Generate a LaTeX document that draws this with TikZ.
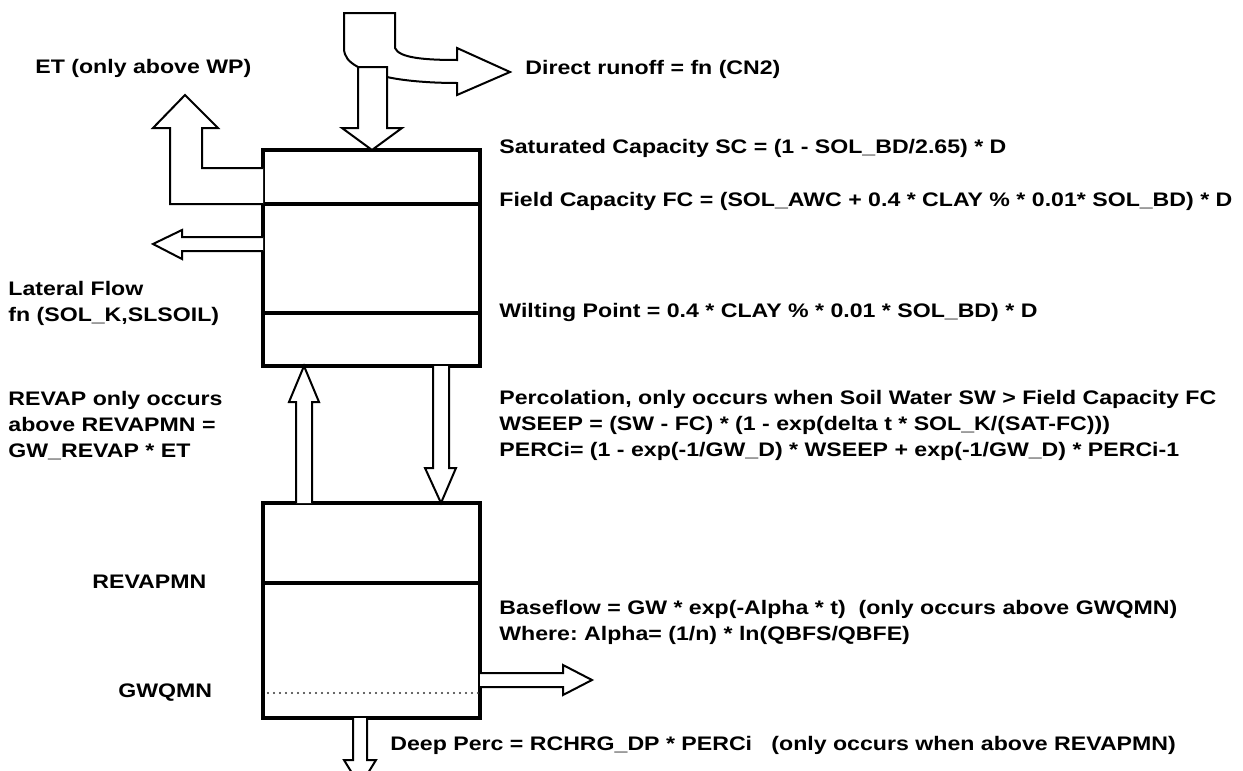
\documentclass[tikz,border=0pt]{standalone}
\usepackage{fontspec}
\setmainfont{Liberation Sans}[FakeStretch=1.18]

\begin{document}
\frenchspacing
\begin{tikzpicture}[
    x=0.5pt, y=-0.5pt,
    lbl/.style={font=\fontsize{9.8}{13}\selectfont\bfseries, inner sep=0pt, anchor=base west, align=left},
    layer/.style={draw, line width=1.75pt, minimum width=108.5pt, inner sep=0pt},
    flow/.style={draw, line width=1pt, fill=white, line join=miter},
]

\useasboundingbox (0,0) rectangle (1243,771);

% Soil profile (upper) and shallow aquifer (lower)
\node[layer, minimum height=108pt] (soil) at (371.5,258) {};
\node[layer, minimum height=107.5pt] (aquifer) at (371.5,610.5) {};
\draw[line width=1.75pt] (263,204) -- (480,204);
\draw[line width=1.75pt] (263,313) -- (480,313);
\draw[line width=1.75pt] (263,583) -- (480,583);
\draw[line width=1.1pt, line cap=round, black!80, dash pattern=on 0pt off 3pt] (268,693) -- (478,693);

% Direct runoff, bending off to the right
\draw[flow, fill=none] (358,67) .. controls (349,62) and (344,57) .. (344,48) -- (344,13)
    -- (395,13) -- (395,48) .. controls (399,58) and (425,60) .. (457,60)
    -- (457,48) -- (510,72) -- (457,95) -- (457,83)
    .. controls (425,83) and (400,80) .. (387,77);

% Infiltration into the soil
\draw[flow] (358,67) -- (358,128) -- (342,128) -- (372,150) -- (402,128)
    -- (387,128) -- (387,67) -- cycle;

% ET
\draw[flow] (263,204) -- (170,204) -- (170,128) -- (153,128) -- (185,95)
    -- (218,128) -- (202,128) -- (202,168) -- (263,168);

% Lateral flow
\draw[flow] (263,237) -- (182,237) -- (182,230) -- (153,244) -- (182,259)
    -- (182,251) -- (263,251);

% Revap (up) and percolation (down)
\draw[flow] (296,503) -- (296,402) -- (289,402) -- (304,366) -- (319,402)
    -- (312,402) -- (312,503);
\draw[flow] (433,366) -- (433,468) -- (425,468) -- (441,503) -- (456,468)
    -- (449,468) -- (449,366);

% Baseflow and deep percolation
\draw[flow] (480,673) -- (563,673) -- (563,665) -- (592,680) -- (563,695)
    -- (563,687) -- (480,687);
\draw[flow] (353,718) -- (353,760) -- (344,760) -- (360,786) -- (376,760)
    -- (367,760) -- (367,718);

% Labels (multi-line ones sit on their last line)
\node[lbl] (et) at (35,73) {ET (only above WP)};
\node[lbl] (runoff) at (525,75) {Direct runoff = fn (CN2)};
\node[lbl] (sc) at (499,153) {Saturated Capacity SC = (1 - SOL\_BD/2.65) * D};
\node[lbl] (fc) at (499,206) {Field Capacity FC = (SOL\_AWC + 0.4 * CLAY \% * 0.01* SOL\_BD) * D};
\node[lbl] (lateral) at (8,321) {Lateral Flow\\fn (SOL\_K,SLSOIL)};
\node[lbl] (wp) at (499,317) {Wilting Point = 0.4 * CLAY \% * 0.01 * SOL\_BD) * D};
\node[lbl] (revap) at (8,457) {REVAP only occurs\\above REVAPMN =\\GW\_REVAP * ET};
\node[lbl] (perc) at (499,456) {Percolation, only occurs when Soil Water SW > Field Capacity FC\\
    WSEEP = (SW - FC) * (1 - exp(delta t * SOL\_K/(SAT-FC)))\\
    PERCi= (1 - exp(-1/GW\_D) * WSEEP + exp(-1/GW\_D) * PERCi-1};
\node[lbl] (revapmn) at (92,588) {REVAPMN};
\node[lbl] (base) at (499,640) {Baseflow = GW * exp(-Alpha * t)\ \ (only occurs above GWQMN)\\
    Where: Alpha= (1/n) * ln(QBFS/QBFE)};
\node[lbl] (gwqmn) at (118,697) {GWQMN};
\node[lbl] (deep) at (390,750) {Deep Perc = RCHRG\_DP * PERCi\ \ \ (only occurs when above REVAPMN)};

\end{tikzpicture}
\end{document}
